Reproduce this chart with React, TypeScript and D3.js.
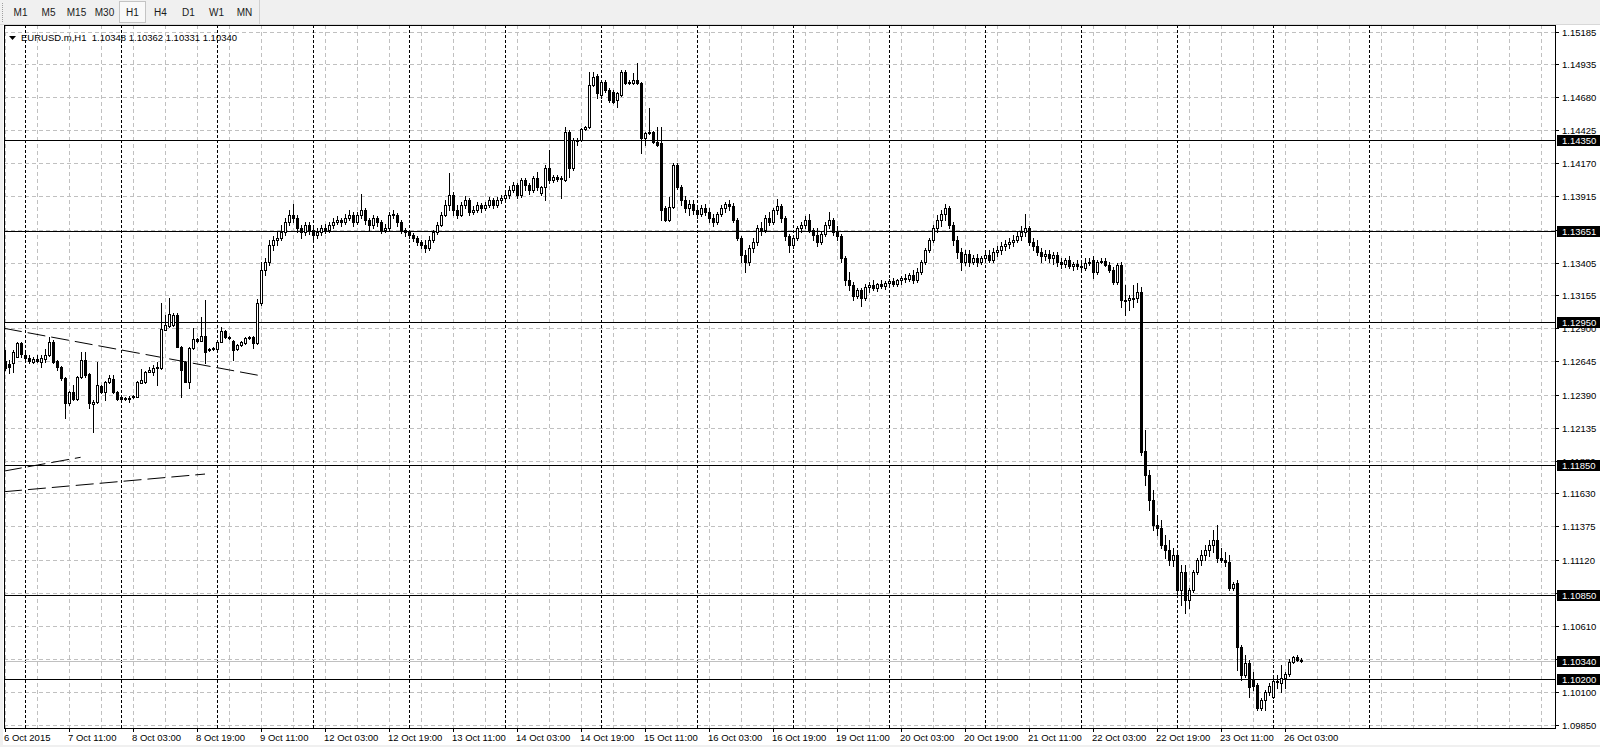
import React from 'react';
import * as d3 from 'd3';

const timeframes = ['M1', 'M5', 'M15', 'M30', 'H1', 'H4', 'D1', 'W1', 'MN'];
const activeTimeframe = 'H1';
const symbolTitle = 'EURUSD.m,H1';
const lastQuote = [1.10348, 1.10362, 1.10331, 1.10340];

const priceGridLabels = ['1.15185', '1.14935', '1.14680', '1.14425', '1.14170', '1.13915', '1.13660', '1.13405', '1.13155', '1.12900', '1.12645', '1.12390', '1.12135', '1.11880', '1.11630', '1.11375', '1.11120', '1.10865', '1.10610', '1.10355', '1.10100', '1.09850'];

const horizontalLevels = [1.1435, 1.13651, 1.1295, 1.1185, 1.1085, 1.102];
const bidPrice = 1.1034;

const timeLabels = ['6 Oct 2015', '7 Oct 11:00', '8 Oct 03:00', '8 Oct 19:00', '9 Oct 11:00', '12 Oct 03:00', '12 Oct 19:00', '13 Oct 11:00', '14 Oct 03:00', '14 Oct 19:00', '15 Oct 11:00', '16 Oct 03:00', '16 Oct 19:00', '19 Oct 11:00', '20 Oct 03:00', '20 Oct 19:00', '21 Oct 11:00', '22 Oct 03:00', '22 Oct 19:00', '23 Oct 11:00', '26 Oct 03:00'];
const timeLabelBars = [0, 16, 32, 48, 64, 80, 96, 112, 128, 144, 160, 176, 192, 208, 224, 240, 256, 272, 288, 304, 320];
const dayStartBars = [5, 29, 53, 77, 101, 125, 149, 173, 197, 221, 245, 269, 293, 317, 341];

// trend lines: [bar1, price1, bar2, price2]
const trendLines: [number, number, number, number][] = [
  [-0.25, 1.129, 64.25, 1.12533],
  [-0.25, 1.11801, 18.9, 1.11907],
  [-0.25, 1.11642, 50, 1.11778],
];

// H1 candles: [open, high, low, close]
const ohlc: [number, number, number, number][] = [
  [1.12648, 1.12733, 1.12579, 1.12594], [1.12625, 1.12656, 1.12556, 1.12602], [1.12633, 1.12733, 1.12564, 1.12718], [1.12679, 1.12795, 1.12679, 1.12787],
  [1.12787, 1.12795, 1.12679, 1.12702], [1.12694, 1.1271, 1.12664, 1.12671], [1.12671, 1.12694, 1.12633, 1.12648], [1.12641, 1.12679, 1.12633, 1.12664],
  [1.12664, 1.12694, 1.12641, 1.12648], [1.12641, 1.12694, 1.12602, 1.12671], [1.12664, 1.12741, 1.12641, 1.12694], [1.12694, 1.12833, 1.12687, 1.12795],
  [1.12795, 1.1281, 1.12633, 1.12641], [1.12648, 1.12656, 1.12579, 1.12602], [1.12602, 1.1261, 1.12502, 1.12517], [1.12517, 1.12525, 1.12209, 1.12325],
  [1.12325, 1.12417, 1.1231, 1.1241], [1.1241, 1.12464, 1.12348, 1.12356], [1.12356, 1.12533, 1.12348, 1.12525], [1.12525, 1.12718, 1.12517, 1.12656],
  [1.12656, 1.12718, 1.12525, 1.1254], [1.12548, 1.12556, 1.12286, 1.12325], [1.12317, 1.12348, 1.12102, 1.12333], [1.12333, 1.12641, 1.12325, 1.12464],
  [1.12456, 1.12464, 1.12402, 1.1241], [1.1241, 1.12494, 1.12348, 1.12487], [1.12487, 1.1254, 1.12479, 1.12517], [1.1251, 1.1254, 1.12402, 1.1241],
  [1.1241, 1.12417, 1.12348, 1.12356], [1.12371, 1.12379, 1.12333, 1.12356], [1.12363, 1.12371, 1.12348, 1.12356], [1.12363, 1.12379, 1.12333, 1.12356],
  [1.12371, 1.12386, 1.12363, 1.12379], [1.12371, 1.12494, 1.12371, 1.12487], [1.12479, 1.12587, 1.12479, 1.12502], [1.12487, 1.12571, 1.12479, 1.12564],
  [1.12564, 1.12602, 1.12564, 1.12579], [1.12564, 1.12617, 1.1254, 1.12594], [1.12594, 1.12641, 1.12464, 1.12602], [1.12594, 1.13095, 1.12587, 1.12895],
  [1.12887, 1.13003, 1.12887, 1.12926], [1.12918, 1.13133, 1.1291, 1.1301], [1.12926, 1.13018, 1.12918, 1.13003], [1.13003, 1.13018, 1.12756, 1.12756],
  [1.12756, 1.12764, 1.12371, 1.12579], [1.12641, 1.12648, 1.12487, 1.12487], [1.12487, 1.12756, 1.1244, 1.12748], [1.12748, 1.12902, 1.12741, 1.12818],
  [1.12818, 1.12825, 1.12795, 1.12802], [1.12802, 1.12987, 1.12802, 1.12841], [1.12841, 1.13118, 1.12633, 1.12718], [1.12741, 1.12748, 1.12725, 1.12733],
  [1.12741, 1.12756, 1.12733, 1.12748], [1.12741, 1.12802, 1.12733, 1.12795], [1.12795, 1.1291, 1.12795, 1.12879], [1.12879, 1.12887, 1.12825, 1.12833],
  [1.12833, 1.12841, 1.12818, 1.12825], [1.12802, 1.1281, 1.12656, 1.12733], [1.12741, 1.12779, 1.12733, 1.12771], [1.12771, 1.12802, 1.12764, 1.12795],
  [1.12787, 1.12833, 1.12779, 1.12825], [1.12825, 1.12841, 1.12818, 1.12833], [1.12833, 1.12841, 1.12748, 1.12787], [1.12787, 1.13126, 1.12779, 1.13095],
  [1.13095, 1.13411, 1.1308, 1.13349], [1.13349, 1.13441, 1.13311, 1.13411], [1.13411, 1.1358, 1.13388, 1.13542], [1.13542, 1.13611, 1.13503, 1.1358],
  [1.1358, 1.13642, 1.13542, 1.13595], [1.13595, 1.13696, 1.1358, 1.13642], [1.13642, 1.13749, 1.13619, 1.13719], [1.13719, 1.13811, 1.13696, 1.13773],
  [1.13773, 1.13857, 1.13719, 1.13749], [1.13749, 1.13773, 1.13642, 1.13672], [1.13672, 1.13696, 1.13595, 1.13642], [1.13642, 1.13719, 1.13619, 1.13696],
  [1.13696, 1.13719, 1.13626, 1.13657], [1.13657, 1.13672, 1.1358, 1.13619], [1.13619, 1.13672, 1.13595, 1.13642], [1.13642, 1.13696, 1.13619, 1.13672],
  [1.13672, 1.13703, 1.13634, 1.13657], [1.13657, 1.13719, 1.13642, 1.13696], [1.13696, 1.13749, 1.13672, 1.13719], [1.13719, 1.13765, 1.13703, 1.13734],
  [1.13734, 1.13749, 1.13688, 1.13719], [1.13719, 1.1378, 1.13703, 1.13749], [1.13749, 1.13811, 1.13734, 1.13773], [1.13773, 1.13796, 1.13688, 1.13719],
  [1.13719, 1.13796, 1.13703, 1.13773], [1.13773, 1.13934, 1.13749, 1.13811], [1.13811, 1.13826, 1.13703, 1.13734], [1.13734, 1.13749, 1.13657, 1.13696],
  [1.13696, 1.13773, 1.13672, 1.13749], [1.13749, 1.13765, 1.13688, 1.13719], [1.13719, 1.13734, 1.13634, 1.13657], [1.13657, 1.13703, 1.13642, 1.13672],
  [1.13672, 1.13796, 1.13657, 1.13773], [1.13773, 1.13811, 1.13749, 1.1378], [1.13773, 1.13788, 1.13688, 1.13719], [1.13719, 1.13734, 1.13634, 1.13657],
  [1.13657, 1.13672, 1.13611, 1.13642], [1.13642, 1.13657, 1.13595, 1.13619], [1.13619, 1.13634, 1.13572, 1.13595], [1.13595, 1.13611, 1.13542, 1.13565],
  [1.13565, 1.1358, 1.13518, 1.13542], [1.13542, 1.1358, 1.13488, 1.13518], [1.13518, 1.13611, 1.13503, 1.1358], [1.1358, 1.13657, 1.13565, 1.13642],
  [1.13642, 1.13719, 1.13626, 1.13696], [1.13696, 1.13796, 1.13688, 1.13773], [1.13773, 1.13888, 1.13765, 1.1385], [1.1385, 1.14096, 1.13811, 1.13926],
  [1.13926, 1.1395, 1.13773, 1.13811], [1.13811, 1.1385, 1.13749, 1.13773], [1.13773, 1.13873, 1.13765, 1.1385], [1.1385, 1.13919, 1.13826, 1.13888],
  [1.13888, 1.13903, 1.13773, 1.13796], [1.13796, 1.13842, 1.1378, 1.13811], [1.13811, 1.13873, 1.13796, 1.1385], [1.1385, 1.13865, 1.13796, 1.13826],
  [1.13826, 1.13873, 1.13811, 1.1385], [1.1385, 1.13911, 1.13834, 1.13888], [1.13888, 1.13903, 1.13826, 1.1385], [1.1385, 1.13911, 1.13834, 1.13888],
  [1.13888, 1.13926, 1.13865, 1.13903], [1.13903, 1.1395, 1.13888, 1.13926], [1.13926, 1.13996, 1.13903, 1.13965], [1.13965, 1.14027, 1.1395, 1.14003],
  [1.14003, 1.14019, 1.13903, 1.13926], [1.13926, 1.14057, 1.13911, 1.14042], [1.14042, 1.14057, 1.13965, 1.14003], [1.14003, 1.14019, 1.13934, 1.13965],
  [1.13965, 1.14073, 1.1395, 1.14057], [1.14057, 1.14104, 1.13965, 1.13988], [1.13942, 1.13996, 1.13926, 1.13988], [1.13988, 1.14157, 1.13888, 1.14134],
  [1.14134, 1.14273, 1.14019, 1.14042], [1.14042, 1.1408, 1.14027, 1.14065], [1.14065, 1.1408, 1.14034, 1.1405], [1.1405, 1.14073, 1.13903, 1.14057],
  [1.14042, 1.1445, 1.14034, 1.14412], [1.14412, 1.14427, 1.14065, 1.14134], [1.14134, 1.14365, 1.14119, 1.1435], [1.1435, 1.14365, 1.14311, 1.14342],
  [1.1435, 1.14442, 1.14342, 1.14435], [1.14435, 1.14458, 1.14427, 1.1445], [1.1445, 1.14874, 1.14442, 1.14774], [1.14774, 1.14874, 1.14766, 1.14835],
  [1.14843, 1.14858, 1.14673, 1.14712], [1.14697, 1.14812, 1.14673, 1.14797], [1.14797, 1.14812, 1.1472, 1.14735], [1.14735, 1.1475, 1.14643, 1.14658],
  [1.1472, 1.14735, 1.14635, 1.14643], [1.14658, 1.1472, 1.14604, 1.14712], [1.14697, 1.14889, 1.14689, 1.14874], [1.14874, 1.14889, 1.14781, 1.14789],
  [1.14797, 1.14812, 1.14781, 1.14789], [1.14789, 1.14866, 1.14781, 1.14812], [1.14812, 1.14943, 1.14781, 1.14789], [1.14789, 1.14797, 1.1425, 1.14365],
  [1.14365, 1.14412, 1.14311, 1.14404], [1.14404, 1.14596, 1.14396, 1.14412], [1.14412, 1.14419, 1.14327, 1.14335], [1.14335, 1.1445, 1.14304, 1.14311],
  [1.14327, 1.1445, 1.13734, 1.13811], [1.13826, 1.13842, 1.13726, 1.13734], [1.13734, 1.13911, 1.13726, 1.13834], [1.13834, 1.14173, 1.13826, 1.14157],
  [1.14157, 1.14173, 1.13973, 1.13988], [1.13988, 1.14003, 1.1385, 1.13888], [1.13888, 1.13919, 1.13796, 1.13826], [1.13826, 1.13888, 1.13773, 1.13857],
  [1.13857, 1.13888, 1.1378, 1.13811], [1.13811, 1.13842, 1.13749, 1.1378], [1.1378, 1.1385, 1.13765, 1.13826], [1.13826, 1.13857, 1.13773, 1.13796],
  [1.13796, 1.13826, 1.13719, 1.13749], [1.13749, 1.1378, 1.13688, 1.13719], [1.13719, 1.13796, 1.13703, 1.1378], [1.1378, 1.1385, 1.13765, 1.13826],
  [1.13826, 1.13873, 1.13796, 1.13857], [1.13857, 1.13888, 1.13811, 1.13842], [1.13842, 1.13865, 1.13719, 1.13734], [1.13734, 1.13749, 1.1358, 1.13595],
  [1.13595, 1.13611, 1.13411, 1.13465], [1.13465, 1.13503, 1.13334, 1.13411], [1.13411, 1.13542, 1.13388, 1.13518], [1.13518, 1.13595, 1.13488, 1.13565],
  [1.13565, 1.13696, 1.13542, 1.13672], [1.13672, 1.13719, 1.13619, 1.13657], [1.13657, 1.13773, 1.13642, 1.13749], [1.13749, 1.13796, 1.13696, 1.13719],
  [1.13719, 1.13826, 1.13703, 1.13811], [1.13811, 1.13896, 1.1378, 1.13842], [1.13842, 1.13857, 1.13719, 1.13749], [1.13749, 1.13765, 1.1358, 1.13611],
  [1.13611, 1.13626, 1.13488, 1.13542], [1.13542, 1.13619, 1.13518, 1.13595], [1.13595, 1.13688, 1.1358, 1.13672], [1.13672, 1.13719, 1.13642, 1.13696],
  [1.13696, 1.13765, 1.13672, 1.13734], [1.13734, 1.1378, 1.13642, 1.13657], [1.13657, 1.13672, 1.1358, 1.13619], [1.13619, 1.13672, 1.13534, 1.13565],
  [1.13565, 1.13642, 1.13549, 1.13626], [1.13626, 1.13719, 1.13611, 1.13696], [1.13696, 1.13796, 1.13672, 1.13734], [1.13734, 1.13749, 1.13619, 1.13642],
  [1.13642, 1.13688, 1.1358, 1.13611], [1.13611, 1.13626, 1.13411, 1.13441], [1.13441, 1.13457, 1.13234, 1.13272], [1.13272, 1.13334, 1.13195, 1.13234],
  [1.13234, 1.13257, 1.13118, 1.13149], [1.13149, 1.1321, 1.13133, 1.13195], [1.13195, 1.1321, 1.13072, 1.13133], [1.13133, 1.13241, 1.13118, 1.13218],
  [1.13218, 1.13257, 1.1318, 1.13234], [1.13234, 1.13272, 1.13195, 1.1321], [1.1321, 1.13249, 1.13187, 1.13241], [1.13241, 1.13272, 1.1321, 1.13226],
  [1.13226, 1.13264, 1.13203, 1.13249], [1.13249, 1.1328, 1.13218, 1.13264], [1.13264, 1.13287, 1.13226, 1.13241], [1.13241, 1.1328, 1.13226, 1.13272],
  [1.13272, 1.13303, 1.13241, 1.13287], [1.13287, 1.13318, 1.13257, 1.1328], [1.1328, 1.13326, 1.13264, 1.13311], [1.13311, 1.13349, 1.13249, 1.13272],
  [1.13272, 1.13364, 1.13257, 1.13334], [1.13334, 1.13426, 1.13318, 1.13411], [1.13411, 1.13518, 1.13395, 1.13503], [1.13503, 1.13595, 1.13488, 1.1358],
  [1.1358, 1.13696, 1.13565, 1.13672], [1.13672, 1.13773, 1.13642, 1.13734], [1.13734, 1.13811, 1.13688, 1.1378], [1.1378, 1.13857, 1.13734, 1.13826],
  [1.13826, 1.13842, 1.13672, 1.13696], [1.13696, 1.13719, 1.13542, 1.1358], [1.1358, 1.13611, 1.13441, 1.13488], [1.13488, 1.13518, 1.13349, 1.13411],
  [1.13411, 1.13503, 1.13388, 1.13472], [1.13472, 1.13503, 1.1338, 1.13411], [1.13411, 1.13465, 1.13395, 1.13441], [1.13441, 1.13472, 1.1338, 1.13411],
  [1.13411, 1.13457, 1.13395, 1.13441], [1.13441, 1.13488, 1.13426, 1.13465], [1.13465, 1.13503, 1.13411, 1.13426], [1.13426, 1.13518, 1.13411, 1.13488],
  [1.13488, 1.13534, 1.13457, 1.13503], [1.13503, 1.13565, 1.13472, 1.13534], [1.13534, 1.1358, 1.13503, 1.13549], [1.13549, 1.13595, 1.13518, 1.13565],
  [1.13565, 1.13619, 1.13534, 1.1358], [1.1358, 1.13642, 1.13565, 1.13611], [1.13611, 1.13688, 1.1358, 1.13642], [1.13642, 1.1378, 1.13611, 1.13672],
  [1.13672, 1.13688, 1.13542, 1.13565], [1.13565, 1.13595, 1.13503, 1.13534], [1.13534, 1.1358, 1.13465, 1.13488], [1.13488, 1.13518, 1.13411, 1.13457],
  [1.13457, 1.13503, 1.13426, 1.13472], [1.13472, 1.13503, 1.13411, 1.13441], [1.13441, 1.13488, 1.13395, 1.13465], [1.13465, 1.13488, 1.1338, 1.13411],
  [1.13411, 1.13441, 1.13364, 1.13395], [1.13395, 1.13441, 1.13372, 1.13426], [1.13426, 1.13457, 1.13364, 1.1338], [1.1338, 1.13411, 1.13349, 1.13395],
  [1.13395, 1.13426, 1.13357, 1.1338], [1.1338, 1.13411, 1.13349, 1.13372], [1.13364, 1.13441, 1.13349, 1.13403], [1.13403, 1.13441, 1.13388, 1.13411],
  [1.13426, 1.13457, 1.13287, 1.13334], [1.13334, 1.13426, 1.13318, 1.13411], [1.13411, 1.13441, 1.13403, 1.13418], [1.13418, 1.13441, 1.1338, 1.13388],
  [1.13388, 1.13411, 1.13334, 1.13349], [1.13349, 1.13372, 1.13241, 1.13257], [1.13257, 1.13403, 1.13241, 1.13388], [1.13388, 1.13411, 1.13064, 1.13118],
  [1.13118, 1.13234, 1.13003, 1.1311], [1.13118, 1.13157, 1.13041, 1.13133], [1.13133, 1.13234, 1.13064, 1.13126], [1.13133, 1.13249, 1.13103, 1.1318],
  [1.1318, 1.13218, 1.11925, 1.11948], [1.11955, 1.12117, 1.11694, 1.11771], [1.11771, 1.11809, 1.11501, 1.11578], [1.11578, 1.11655, 1.11347, 1.11386],
  [1.11386, 1.11463, 1.11309, 1.11362], [1.11362, 1.11424, 1.11208, 1.11232], [1.11232, 1.11309, 1.11131, 1.11193], [1.11193, 1.1127, 1.11078, 1.11116],
  [1.11116, 1.11208, 1.1107, 1.11155], [1.11155, 1.11193, 1.10847, 1.10885], [1.10885, 1.11078, 1.1077, 1.11024], [1.11024, 1.11078, 1.10708, 1.10808],
  [1.10808, 1.109, 1.10746, 1.10885], [1.10885, 1.11039, 1.1087, 1.11024], [1.11024, 1.11131, 1.11008, 1.11116], [1.11116, 1.11193, 1.11078, 1.11155],
  [1.11155, 1.11232, 1.11116, 1.11193], [1.11193, 1.1127, 1.11147, 1.11232], [1.11232, 1.11347, 1.11178, 1.1127], [1.1127, 1.11386, 1.11101, 1.11131],
  [1.11131, 1.11208, 1.11101, 1.11116], [1.11116, 1.11178, 1.1107, 1.11101], [1.11101, 1.11155, 1.10885, 1.109], [1.109, 1.10947, 1.10885, 1.10931],
  [1.10939, 1.10962, 1.10269, 1.10446], [1.10446, 1.10462, 1.10192, 1.10231], [1.10231, 1.10385, 1.10215, 1.10323], [1.10323, 1.10346, 1.10061, 1.10138],
  [1.10192, 1.10254, 1.10115, 1.10146], [1.10154, 1.10169, 1.09961, 1.09976], [1.09976, 1.10053, 1.09961, 1.10038], [1.10038, 1.10115, 1.09961, 1.101],
  [1.101, 1.10169, 1.10077, 1.10146], [1.10061, 1.10231, 1.10053, 1.10184], [1.10177, 1.10231, 1.1013, 1.10184], [1.10169, 1.10308, 1.101, 1.10207],
  [1.10207, 1.10254, 1.1013, 1.10238], [1.10238, 1.10354, 1.10223, 1.10331], [1.10331, 1.10377, 1.10323, 1.10369], [1.10369, 1.10385, 1.10338, 1.10346],
  [1.10348, 1.10362, 1.10331, 1.1034],
];

const FONT = '"Liberation Sans", Arial, sans-serif';
const W = 1600;
const H = 747;
const PLOT = { left: 4, top: 25, right: 1555, bottom: 728 };

export default function App() {
  const x = d3.scaleLinear().domain([0, 324]).range([5, 1301]);
  const y = d3.scaleLinear().domain([1.0985, 1.15185]).range([724.5, 31.5]);
  const px = (v: number) => Math.round(x(v));
  const py = (v: number) => Math.round(y(v));

  const gridBars = d3.range(0, 400, 8).filter((b) => x(b) < PLOT.right - 2);
  const gridPrices = priceGridLabels.map((s) => +s);

  const fmt = d3.format('.5f');

  return (
    <svg width={W} height={H} viewBox={`0 0 ${W} ${H}`} style={{ position: 'absolute', left: 0, top: 0, display: 'block' }} fontFamily={FONT}>
      <defs>
        <clipPath id="plotClip">
          <rect x={PLOT.left + 1} y={PLOT.top + 1} width={PLOT.right - PLOT.left - 1} height={PLOT.bottom - PLOT.top - 1} />
        </clipPath>
      </defs>
      <rect x={0} y={0} width={W} height={H} fill="#f0f0f0" />
      <rect x={3} y={25} width={W - 3} height={720} fill="#ffffff" />

      {/* toolbar */}
      <line x1={2.5} y1={3} x2={2.5} y2={22} stroke="#a0a0a0" strokeDasharray="1,1" />
      <line x1={0} y1={24.5} x2={W} y2={24.5} stroke="#d8d8d8" />
      <line x1={259.5} y1={0} x2={259.5} y2={24} stroke="#d0d0d0" />
      {timeframes.map((tf, i) => {
        const cx = 20 + i * 28;
        const active = tf === activeTimeframe;
        return (
          <g key={tf}>
            {active && <rect x={cx - 12.5} y={1.5} width={26} height={21} fill="#f9f9f9" stroke="#c4c4c4" />}
            <text x={cx + 0.5} y={16} fontSize={10} textAnchor="middle" fill="#1a1a1a">{tf}</text>
          </g>
        );
      })}

      <g clipPath="url(#plotClip)">
        {gridPrices.map((p, i) => (
          <line key={'hg' + i} x1={PLOT.left} x2={PLOT.right} y1={Math.round(y(p)) + 0.5} y2={Math.round(y(p)) + 0.5} stroke="#c0c0c0" strokeDasharray="4,3" />
        ))}
        {gridBars.map((b) => (
          <line key={'vg' + b} x1={px(b) + 0.5} x2={px(b) + 0.5} y1={PLOT.top} y2={PLOT.bottom} stroke="#c0c0c0" strokeDasharray="4,3" />
        ))}
        {dayStartBars.map((b) => (
          <line key={'ds' + b} x1={px(b) + 0.5} x2={px(b) + 0.5} y1={PLOT.top} y2={PLOT.bottom} stroke="#000" strokeDasharray="3,2" />
        ))}

        <line x1={PLOT.left} x2={PLOT.right} y1={py(bidPrice) + 0.5} y2={py(bidPrice) + 0.5} stroke="#c0c0c0" />

        {horizontalLevels.map((p) => (
          <line key={'hl' + p} x1={PLOT.left} x2={PLOT.right} y1={py(p) + 0.5} y2={py(p) + 0.5} stroke="#000" />
        ))}

        {trendLines.map((t, i) => (
          <line key={'tl' + i} x1={x(t[0])} y1={y(t[1])} x2={x(t[2])} y2={y(t[3])} stroke="#000" strokeDasharray="18,6" />
        ))}

        {ohlc.map((c, i) => {
          const [o, h, l, cl] = c;
          const cx = px(i);
          const yo = py(o);
          const yc = py(cl);
          const top = Math.min(yo, yc);
          const bot = Math.max(yo, yc);
          const bull = cl > o;
          return (
            <g key={'c' + i}>
              <line x1={cx + 0.5} x2={cx + 0.5} y1={py(h)} y2={py(l) + 1} stroke="#000" />
              {bot - top < 1 ? (
                <line x1={cx - 1} x2={cx + 2} y1={top + 0.5} y2={top + 0.5} stroke="#000" />
              ) : (
                <rect x={cx - 0.5} y={top + 0.5} width={2} height={bot - top} fill={bull ? '#fff' : '#000'} stroke="#000" />
              )}
            </g>
          );
        })}
      </g>

      <rect x={PLOT.left + 0.5} y={PLOT.top + 0.5} width={PLOT.right - PLOT.left} height={PLOT.bottom - PLOT.top} fill="none" stroke="#000" />

      <path d="M9,36 L16,36 L12.5,40 Z" fill="#000" />
      <text x={21} y={41} fontSize={9.5} fill="#000" style={{ whiteSpace: 'pre' }}>
        {`${symbolTitle}  ${lastQuote.map((v) => fmt(v)).join(' ')}`}
      </text>

      {gridPrices.map((p, i) => {
        const yy = Math.round(y(p));
        return (
          <g key={'pl' + i}>
            <line x1={PLOT.right} x2={PLOT.right + 4} y1={yy + 0.5} y2={yy + 0.5} stroke="#000" />
            <text x={1562} y={yy + 4} fontSize={9.5} fill="#000">{priceGridLabels[i]}</text>
          </g>
        );
      })}
      {[...horizontalLevels, bidPrice].map((p) => {
        const yy = py(p);
        return (
          <g key={'box' + p}>
            <rect x={1557} y={yy - 5} width={43} height={11} fill="#000" />
            <text x={1562} y={yy + 4} fontSize={9.5} fill="#fff">{fmt(p)}</text>
          </g>
        );
      })}

      {timeLabels.map((lab, i) => {
        const tx = px(timeLabelBars[i]);
        return (
          <g key={'tl' + lab}>
            <line x1={tx + 0.5} x2={tx + 0.5} y1={PLOT.bottom} y2={PLOT.bottom + 4} stroke="#000" />
            <text x={tx - 1} y={741} fontSize={9.5} fill="#000">{lab}</text>
          </g>
        );
      })}
    </svg>
  );
}
